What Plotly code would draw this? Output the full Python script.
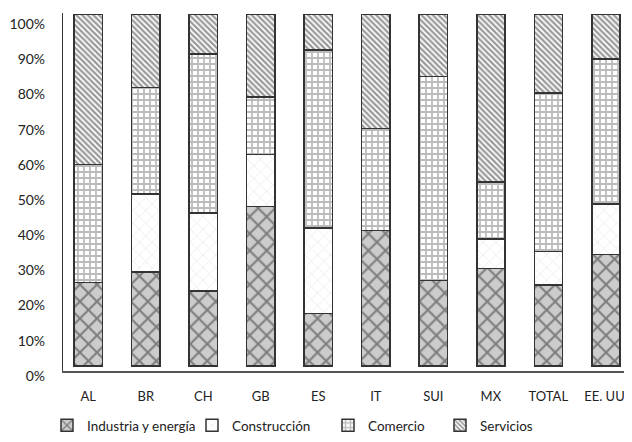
import plotly.graph_objects as go

categories = ["AL", "BR", "CH", "GB", "ES", "IT", "SUI", "MX", "TOTAL", "EE. UU."]
industria = [23.7, 26.8, 21.4, 45.4, 15.0, 38.6, 24.3, 27.7, 23.1, 31.8]
construccion = [0.0, 22.1, 22.1, 14.7, 24.3, 0.0, 0.0, 8.5, 9.5, 14.3]
comercio = [33.6, 30.3, 45.2, 16.4, 50.6, 28.9, 58.0, 16.2, 45.0, 41.2]
servicios = [42.7, 20.8, 11.3, 23.5, 10.1, 32.5, 17.7, 47.6, 22.4, 12.7]
series_names = ["Industria y energía", "Construcción", "Comercio", "Servicios"]
tick_vals = [0, 10, 20, 30, 40, 50, 60, 70, 80, 90, 100]
tick_text = ["0%", "10%", "20%", "30%", "40%", "50%", "60%", "70%", "80%", "90%", "100%"]

FONT = "Lato, sans-serif"
def f(size):
    return dict(family=FONT, size=size, color="#222222")

patterns = [
    dict(shape="x", bgcolor="#cccccc", fgcolor="#2b2b2b", size=12, solidity=0.3),
    dict(shape="x", bgcolor="#ffffff", fgcolor="#d0d0d0", size=9, solidity=0.15),
    dict(shape="+", bgcolor="#ffffff", fgcolor="#777777", size=6, solidity=0.5),
    dict(shape="\\", bgcolor="#ffffff", fgcolor="#333333", size=4, solidity=0.55),
]

# page body has an 8px margin; figure is offset accordingly
OFF = 8
W, H = 632 - OFF, 442 - OFF
plot_left, plot_right, plot_top, plot_bottom = 63 - OFF, 630 - OFF, 13 - OFF, 372 - OFF
plot_w = plot_right - plot_left
plot_h = plot_bottom - plot_top

fig = go.Figure()
data = [industria, construccion, comercio, servicios]
legend_ids = ["legend", "legend2", "legend3", "legend4"]
for name, vals, pat, lg in zip(series_names, data, patterns, legend_ids):
    fig.add_trace(go.Bar(
        x=categories, y=vals, name=name,
        marker=dict(color=pat["bgcolor"], pattern=pat,
                    line=dict(color="#333333", width=1.5)),
        legend=lg,
    ))

legend_x_px = [47, 192, 328, 440]
# legend box bottom kept inside the figure so it does not push the margins
legend_bottom_px = H - 1
legend_common = dict(orientation="h", yanchor="bottom",
                     y=(plot_bottom - legend_bottom_px) / plot_h,
                     xanchor="left", font=f(13.5), bgcolor="rgba(0,0,0,0)")
legends = {}
for lg, px in zip(legend_ids, legend_x_px):
    legends[lg] = dict(legend_common, x=((px - OFF) - plot_left) / plot_w)

fig.update_layout(
    width=W, height=H,
    margin=dict(l=plot_left, r=W - plot_right, t=plot_top, b=H - plot_bottom),
    barmode="stack", bargap=0.51,
    plot_bgcolor="white", paper_bgcolor="white",
    font=f(14),
    showlegend=True,
    **legends,
)
fig.update_xaxes(
    range=[-0.44, 9.42], showgrid=False, zeroline=False, automargin=False,
    showline=True, linecolor="#555555", linewidth=2,
    ticks="", ticklabelstandoff=12, ticklabeloverflow="allow", tickfont=f(13),
)
fig.update_yaxes(
    range=[-1.4, 100.4], showgrid=False, zeroline=False, automargin=False,
    showline=True, linecolor="#333333", linewidth=1.2,
    tickvals=tick_vals, ticktext=tick_text, ticks="", ticklabelstandoff=14,
    ticklabelposition="outside bottom", ticklabeloverflow="allow", tickfont=f(14),
)

fig.write_html("out.html")
